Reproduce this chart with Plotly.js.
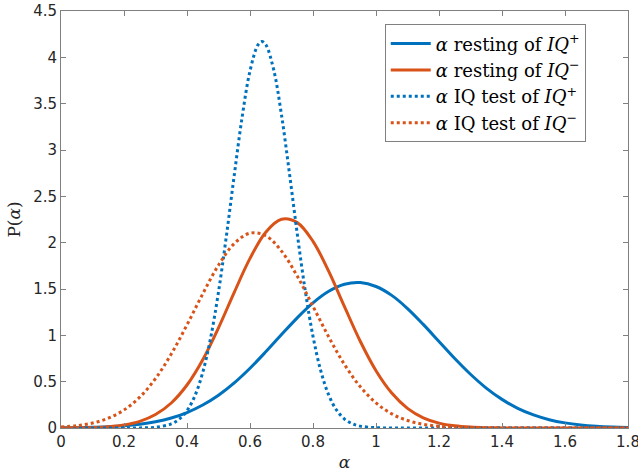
<!DOCTYPE html>
<html>
<head>
<meta charset="utf-8">
<script src="https://cdn.plot.ly/plotly-3.0.1.min.js"></script>
<style>html,body{margin:0;padding:0;background:#fff;}#chart{width:638px;height:476px;}</style>
</head>
<body>
<div id="chart"></div>
<script>
// x grid (alpha) for the wide curves
const alphaWide = [0,0.05,0.1,0.15,0.2,0.25,0.3,0.35,0.4,0.45,0.5,0.55,0.6,0.65,0.7,0.75,0.8,0.85,0.9,0.95,1.0,1.05,1.1,1.15,1.2,1.25,1.3,1.35,1.4,1.45,1.5,1.55,1.6,1.65,1.7,1.75,1.8];

// alpha resting of IQ+ (blue solid)
const restingIQplus = [0.0018,0.0036,0.0069,0.0129,0.0233,0.0404,0.0673,0.108,0.167,0.248,0.354,0.487,0.645,0.822,1.008,1.189,1.350,1.475,1.551,1.569,1.527,1.431,1.289,1.118,0.934,0.750,0.580,0.431,0.309,0.212,0.141,0.0898,0.0551,0.0326,0.0185,0.0101,0.0053];

// alpha resting of IQ- (orange solid)
const restingIQminus = [0.0006,0.0019,0.0054,0.0139,0.0328,0.0717,0.145,0.270,0.464,0.737,1.081,1.464,1.830,2.113,2.252,2.216,2.014,1.690,1.309,0.936,0.618,0.377,0.212,0.110,0.0529,0.0235,0.0096,0.0036,0.0013,0.0004,0.0001,0,0,0,0,0,0];

// alpha IQ test of IQ- (orange dotted)
const testIQminus = [0.0112,0.0254,0.0536,0.1056,0.194,0.333,0.534,0.798,1.113,1.448,1.757,1.990,2.103,2.075,1.909,1.639,1.313,0.982,0.685,0.446,0.271,0.153,0.0812,0.0401,0.0184,0.0079,0.0032,0.0012,0.0004,0.0001,0,0,0,0,0,0,0];

// finer x grid for the narrow curve
const alphaNarrow = [0,0.05,0.1,0.15,0.2,0.25,0.3,0.35,0.375,0.4,0.425,0.45,0.475,0.5,0.525,0.55,0.575,0.6,0.625,0.6375,0.65,0.675,0.7,0.725,0.75,0.775,0.8,0.825,0.85,0.875,0.9,0.925,0.95,1.0,1.05,1.1,1.2,1.3,1.4,1.5,1.6,1.7,1.8];

// alpha IQ test of IQ+ (blue dotted)
const testIQplus = [0,0,0,0,0.0001,0.0011,0.0079,0.0442,0.094,0.187,0.347,0.600,0.972,1.468,2.071,2.728,3.355,3.853,4.132,4.17,4.137,3.869,3.378,2.754,2.096,1.490,0.989,0.613,0.355,0.192,0.0968,0.0456,0.0201,0.0032,0.0004,0,0,0,0,0,0,0,0];

const legendNames = [
  '<i>α</i> resting of <i>IQ</i><sup>+</sup>',
  '<i>α</i> resting of <i>IQ</i><sup>−</sup>',
  '<i>α</i> IQ test of <i>IQ</i><sup>+</sup>',
  '<i>α</i> IQ test of <i>IQ</i><sup>−</sup>'
];

const xTicks = [0,0.2,0.4,0.6,0.8,1,1.2,1.4,1.6,1.8];
const yTicks = [0,0.5,1,1.5,2,2.5,3,3.5,4,4.5];

const blue = '#0072BD', orange = '#D95319';

const traces = [
  {x: alphaWide, y: restingIQplus, name: legendNames[0], mode: 'lines', line: {color: blue, width: 3, shape: 'spline'}},
  {x: alphaWide, y: restingIQminus, name: legendNames[1], mode: 'lines', line: {color: orange, width: 3, shape: 'spline'}},
  {x: alphaNarrow, y: testIQplus, name: legendNames[2], mode: 'lines', line: {color: blue, width: 3, dash: 'dot', shape: 'spline'}},
  {x: alphaWide, y: testIQminus, name: legendNames[3], mode: 'lines', line: {color: orange, width: 3, dash: 'dot', shape: 'spline'}}
];

const axisCommon = {
  showline: true, mirror: 'ticks', linecolor: '#808080', linewidth: 1,
  ticks: 'inside', ticklen: 5, tickcolor: '#808080', tickwidth: 1,
  showgrid: false, zeroline: false, ticklabeloverflow: 'allow',
  tickfont: {family: 'DejaVu Sans', size: 15, color: '#262626'}
};

const layout = {
  width: 638, height: 476,
  margin: {l: 61, r: 10, t: 11, b: 48},
  paper_bgcolor: '#fff', plot_bgcolor: '#fff',
  showlegend: true,
  xaxis: Object.assign({}, axisCommon, {
    range: [0, 1.8], tickvals: xTicks, ticktext: xTicks.map(String),
    title: {text: '<i>α</i>', font: {family: 'DejaVu Serif', size: 17, color: '#262626'}, standoff: 6}
  }),
  yaxis: Object.assign({}, axisCommon, {
    range: [0, 4.5], tickvals: yTicks, ticktext: yTicks.map(String),
    title: {text: 'P(<i>α</i>)', font: {family: 'DejaVu Serif', size: 17, color: '#262626'}, standoff: 8}
  }),
  legend: {
    x: 0.571, xanchor: 'left', y: 0.968, yanchor: 'top',
    bgcolor: '#fff', bordercolor: '#808080', borderwidth: 1,
    font: {family: 'DejaVu Serif', size: 18, color: '#000'},
    itemwidth: 40, tracegroupgap: 0
  }
};

Plotly.newPlot('chart', traces, layout, {displayModeBar: false, staticPlot: true});
</script>
</body>
</html>
